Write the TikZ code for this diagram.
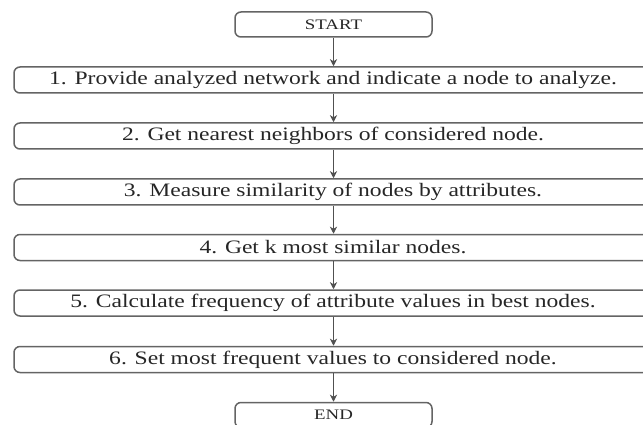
\documentclass[tikz,border=0pt]{standalone}
\usepackage{graphicx}
\usepackage{fontspec}
\setmainfont{Liberation Serif}
\usetikzlibrary{arrows.meta,calc}
\definecolor{boxline}{RGB}{100,100,100}
\definecolor{arrline}{RGB}{80,80,80}
\newcommand\widetxt[1]{\scalebox{1.24}[1]{#1}}
\newcommand\termtxt[1]{\scalebox{1.3}[1]{#1}}
\tikzset{
  x=1pt,y=-1pt,
  stepbox/.style={draw=boxline,line width=1.5pt,rounded corners=6pt,minimum width=638pt,minimum height=26pt,inner sep=0pt,font=\fontsize{19}{19}\selectfont,text=black!85},
  termbox/.style={draw=boxline,line width=1.5pt,rounded corners=6pt,minimum width=197pt,minimum height=25pt,inner sep=0pt,font=\fontsize{14.5}{14.5}\selectfont,text=black!85},
  flow/.style={draw=arrline,line width=1.4pt,-{Stealth[length=7pt,width=7pt,inset=2pt]}}
}
\begin{document}
\begin{tikzpicture}
\useasboundingbox (0,0) rectangle (643,425);
\node[termbox] (start) at (333.5,24.5) {\termtxt{START}};
\node[stepbox] (s1) at (333,80) {\widetxt{1. Provide analyzed network and indicate a node to analyze.}};
\node[stepbox] (s2) at (333,136) {\widetxt{2. Get nearest neighbors of considered node.}};
\node[stepbox] (s3) at (333,192) {\widetxt{3. Measure similarity of nodes by attributes.}};
\node[stepbox] (s4) at (333,247.5) {\widetxt{4. Get k most similar nodes.}};
\node[stepbox] (s5) at (333,303) {\widetxt{5. Calculate frequency of attribute values in best nodes.}};
\node[stepbox] (s6) at (333,359.5) {\widetxt{6. Set most frequent values to considered node.}};
\node[termbox] (end) at (333.5,415) {\termtxt{END}};
\draw[flow] (start.south) -- (start.south |- s1.north);
\draw[flow] (s1.south -| start) -- (s2.north -| start);
\draw[flow] (s2.south -| start) -- (s3.north -| start);
\draw[flow] (s3.south -| start) -- (s4.north -| start);
\draw[flow] (s4.south -| start) -- (s5.north -| start);
\draw[flow] (s5.south -| start) -- (s6.north -| start);
\draw[flow] (s6.south -| start) -- (end.north);
\end{tikzpicture}
\end{document}
